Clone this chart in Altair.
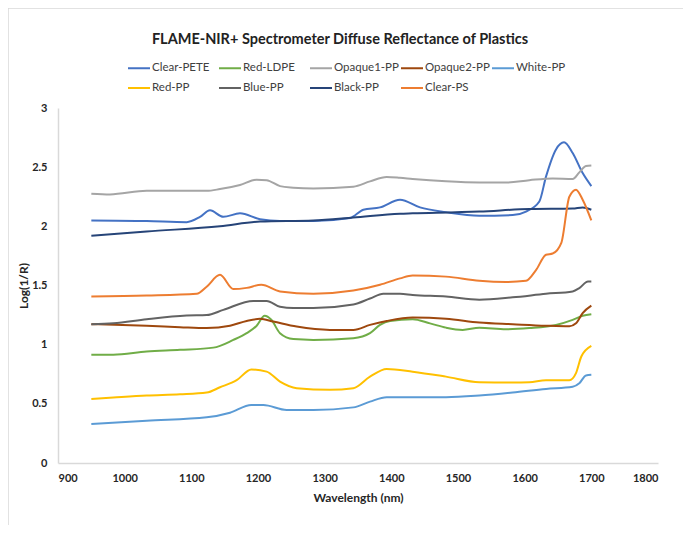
import altair as alt
import pandas as pd

series = ["Clear-PETE", "Red-LDPE", "Opaque1-PP", "Opaque2-PP", "White-PP",
          "Red-PP", "Blue-PP", "Black-PP", "Clear-PS"]
colors = ["#4472C4", "#70AD47", "#A5A5A5", "#9E480E", "#5B9BD5",
          "#FFC000", "#636363", "#264478", "#ED7D31"]

clear_pete_wl = [950, 1033, 1093, 1113, 1128, 1148, 1173, 1203, 1233, 1283, 1338, 1358, 1383, 1413, 1443, 1482, 1532, 1582, 1602, 1622, 1632, 1647, 1659, 1672, 1687, 1700]
clear_pete_v = [2.05, 2.045, 2.035, 2.08, 2.135, 2.08, 2.11, 2.06, 2.045, 2.045, 2.07, 2.14, 2.16, 2.225, 2.16, 2.12, 2.09, 2.095, 2.125, 2.21, 2.42, 2.65, 2.71, 2.62, 2.45, 2.34]

red_ldpe_wl = [950, 983, 1033, 1083, 1133, 1163, 1183, 1198, 1210, 1220, 1233, 1253, 1283, 1343, 1368, 1383, 1398, 1432, 1458, 1482, 1507, 1532, 1572, 1607, 1647, 1672, 1687, 1700]
red_ldpe_v = [0.914, 0.915, 0.942, 0.956, 0.975, 1.04, 1.097, 1.16, 1.244, 1.21, 1.097, 1.047, 1.04, 1.055, 1.097, 1.167, 1.2, 1.215, 1.18, 1.144, 1.125, 1.144, 1.13, 1.14, 1.167, 1.21, 1.244, 1.258]

opaque1_wl = [950, 978, 1033, 1123, 1143, 1173, 1198, 1213, 1233, 1253, 1283, 1343, 1368, 1393, 1413, 1432, 1482, 1532, 1572, 1607, 1642, 1672, 1682, 1692, 1700]
opaque1_v = [2.276, 2.27, 2.30, 2.30, 2.315, 2.35, 2.394, 2.39, 2.34, 2.327, 2.32, 2.335, 2.38, 2.417, 2.41, 2.40, 2.38, 2.37, 2.37, 2.39, 2.405, 2.40, 2.456, 2.51, 2.515]

opaque2_wl = [950, 1033, 1083, 1123, 1158, 1183, 1203, 1223, 1258, 1308, 1343, 1368, 1393, 1432, 1482, 1532, 1582, 1632, 1667, 1677, 1687, 1700]
opaque2_v = [1.173, 1.16, 1.148, 1.14, 1.16, 1.20, 1.218, 1.195, 1.153, 1.125, 1.125, 1.167, 1.20, 1.23, 1.22, 1.187, 1.173, 1.16, 1.155, 1.18, 1.267, 1.33]

white_pp_wl = [950, 1033, 1123, 1158, 1190, 1208, 1243, 1283, 1343, 1368, 1393, 1432, 1482, 1532, 1582, 1632, 1672, 1682, 1692, 1700]
white_pp_v = [0.33, 0.358, 0.386, 0.425, 0.49, 0.49, 0.448, 0.448, 0.47, 0.519, 0.556, 0.556, 0.556, 0.57, 0.595, 0.626, 0.645, 0.674, 0.74, 0.745]

red_pp_wl = [950, 983, 1033, 1083, 1123, 1143, 1168, 1190, 1213, 1233, 1258, 1308, 1343, 1368, 1393, 1432, 1482, 1532, 1582, 1607, 1632, 1667, 1677, 1685, 1700]
red_pp_v = [0.541, 0.553, 0.57, 0.58, 0.595, 0.64, 0.70, 0.79, 0.772, 0.688, 0.632, 0.618, 0.632, 0.73, 0.795, 0.772, 0.73, 0.683, 0.68, 0.683, 0.70, 0.70, 0.76, 0.90, 0.99]

blue_pp_wl = [950, 983, 1033, 1093, 1123, 1148, 1193, 1213, 1233, 1253, 1283, 1343, 1368, 1388, 1413, 1432, 1482, 1532, 1582, 1632, 1672, 1682, 1695, 1700]
blue_pp_v = [1.173, 1.18, 1.215, 1.246, 1.25, 1.294, 1.37, 1.37, 1.32, 1.31, 1.31, 1.34, 1.39, 1.43, 1.43, 1.42, 1.407, 1.38, 1.40, 1.43, 1.45, 1.478, 1.534, 1.534]

black_pp_wl = [950, 1033, 1143, 1203, 1283, 1343, 1413, 1432, 1532, 1607, 1672, 1687, 1700]
black_pp_v = [1.92, 1.957, 2.0, 2.04, 2.05, 2.075, 2.107, 2.11, 2.125, 2.146, 2.15, 2.16, 2.14]

clear_ps_wl = [950, 1033, 1108, 1123, 1143, 1163, 1183, 1205, 1233, 1283, 1343, 1383, 1413, 1432, 1482, 1532, 1572, 1602, 1617, 1632, 1642, 1655, 1667, 1677, 1687, 1700]
clear_ps_v = [1.407, 1.415, 1.43, 1.49, 1.59, 1.47, 1.48, 1.506, 1.45, 1.43, 1.457, 1.506, 1.56, 1.585, 1.575, 1.54, 1.53, 1.54, 1.63, 1.76, 1.77, 1.86, 2.25, 2.31, 2.225, 2.05]

x_ticks = [900, 1000, 1100, 1200, 1300, 1400, 1500, 1600, 1700, 1800]
y_ticks = [0, 0.5, 1, 1.5, 2, 2.5, 3]

all_wl = [clear_pete_wl, red_ldpe_wl, opaque1_wl, opaque2_wl, white_pp_wl,
          red_pp_wl, blue_pp_wl, black_pp_wl, clear_ps_wl]
all_v = [clear_pete_v, red_ldpe_v, opaque1_v, opaque2_v, white_pp_v,
         red_pp_v, blue_pp_v, black_pp_v, clear_ps_v]

rows = []
for name, wl, v in zip(series, all_wl, all_v):
    for w, val in zip(wl, v):
        rows.append({"series": name, "wl": w, "val": val})
df = pd.DataFrame(rows)

FONT = "Lato"

lines = alt.Chart(df).mark_line(strokeWidth=2, interpolate="monotone").encode(
    x=alt.X("wl:Q", scale=alt.Scale(domain=[900, 1800], nice=False),
            axis=alt.Axis(values=x_ticks, format="d", title="Wavelength (nm)",
                          labelPadding=9, titlePadding=9)),
    y=alt.Y("val:Q", scale=alt.Scale(domain=[0, 3], nice=False),
            axis=alt.Axis(values=y_ticks, format="~g", title="Log(1/R)",
                          labelPadding=11, titlePadding=1)),
    color=alt.Color("series:N", sort=series,
                    scale=alt.Scale(domain=series, range=colors),
                    legend=alt.Legend(title=None, orient="none", legendX=69, legendY=-52,
                                      columns=5, direction="horizontal",
                                      symbolType="stroke", symbolSize=484,
                                      symbolStrokeWidth=2, labelOffset=1,
                                      columnPadding=-2, rowPadding=2,
                                      gridAlign="all",
                                      labelFont=FONT, labelFontSize=11.5,
                                      labelColor="#404040")),
)

frame_df = pd.DataFrame({"k": [0]})
frame_left = alt.Chart(frame_df).mark_rule(color="#d9d9d9", strokeWidth=1.5).encode(
    x=alt.value(-50), y=alt.value(-100), y2=alt.value(418))
frame_top = alt.Chart(frame_df).mark_rule(color="#d9d9d9", strokeWidth=1.5).encode(
    x=alt.value(-50), x2=alt.value(640), y=alt.value(-100))

chart = alt.layer(frame_left, frame_top, lines).properties(
    width=600, height=355,
    title=alt.TitleParams("FLAME-NIR+ Spectrometer Diffuse Reflectance of Plastics",
                          font=FONT, fontSize=14.5, fontWeight="bold", color="#222222",
                          anchor="middle", dx=-18, offset=-40),
    autosize=alt.AutoSizeParams(type="none"),
    padding={"left": 50, "top": 100, "right": 25, "bottom": 62},
).configure_view(stroke=None).configure_axis(
    grid=False, ticks=False, domainColor="#d9d9d9", domainWidth=1.5,
    labelFont=FONT, labelFontSize=11, labelFontWeight="bold", labelColor="#262626",
    titleFont=FONT, titleFontSize=12, titleFontWeight="bold", titleColor="#262626",
)

chart.save("out.html", embed_options={"renderer": "svg", "actions": False})
